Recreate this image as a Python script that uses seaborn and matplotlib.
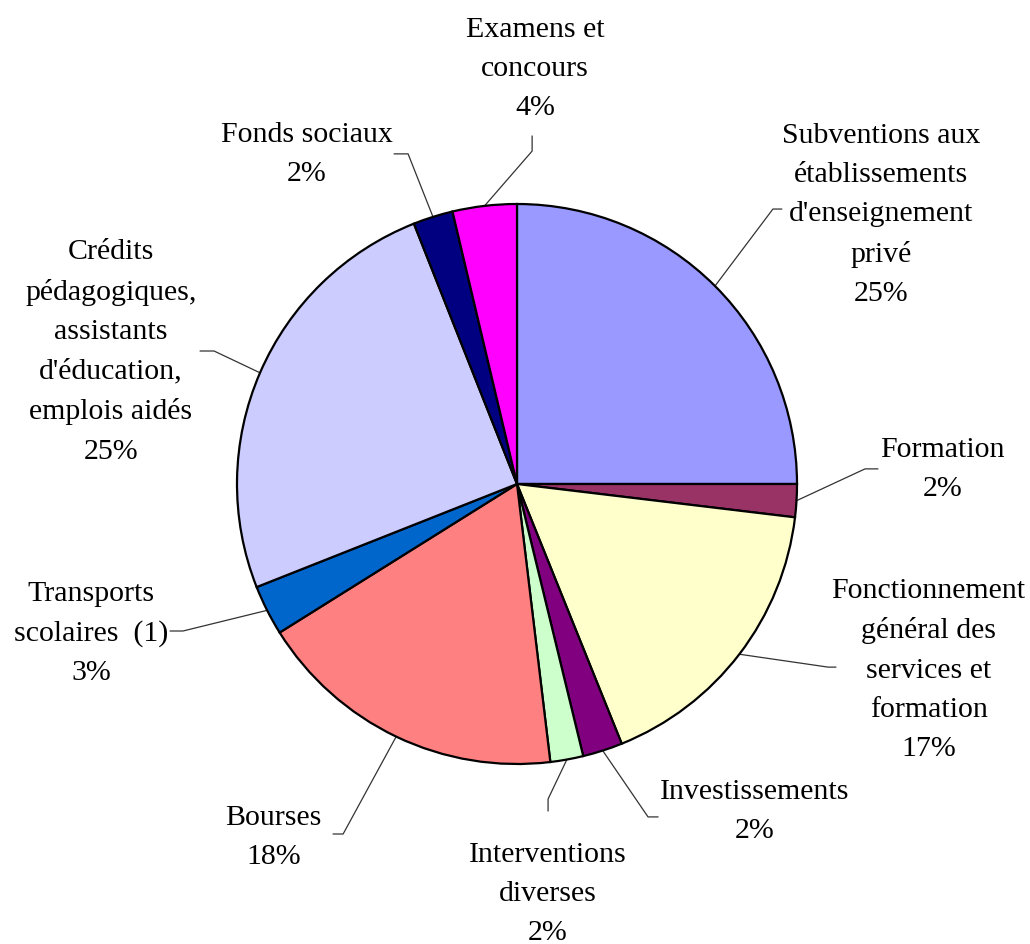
import numpy as np
import pandas as pd
import seaborn as sns
import matplotlib.pyplot as plt

# Données du graphique (parts en %)
categories = [
    "Subventions aux\nétablissements\nd'enseignement\nprivé",
    "Formation",
    "Fonctionnement\ngénéral des\nservices et\nformation",
    "Investissements",
    "Interventions\ndiverses",
    "Bourses",
    "Transports\nscolaires  (1)",
    "Crédits\npédagogiques,\nassistants\nd'éducation,\nemplois aidés",
    "Fonds sociaux",
    "Examens et\nconcours",
]
valeurs = [25.0, 1.9, 17.0, 2.3, 1.9, 18.0, 2.9, 25.0, 2.3, 3.7]
couleurs = ["#9999FF", "#993366", "#FFFFCC", "#800080", "#CCFFCC",
            "#FF8080", "#0066CC", "#CCCCFF", "#000080", "#FF00FF"]

# Position des étiquettes (en rayons) : texte, coude, fin du trait
pos_texte = [(1.30, 0.965), (1.52, 0.054), (1.47, -0.66), (0.85, -1.165),
             (0.11, -1.46), (-0.87, -1.26), (-1.52, -0.53), (-1.45, 0.475),
             (-0.75, 1.18), (0.065, 1.485)]
coudes = [(0.914, 0.982), (1.243, 0.054), (1.111, -0.654), (0.468, -1.189),
          (0.111, -1.125), (-0.621, -1.25), (-1.193, -0.525), (-1.082, 0.475),
          (-0.389, 1.179), (0.054, 1.189)]
fins = [(0.946, 0.982), (1.289, 0.054), (1.139, -0.654), (0.504, -1.189),
        (0.111, -1.168), (-0.657, -1.25), (-1.239, -0.525), (-1.132, 0.475),
        (-0.439, 1.179), (0.054, 1.243)]

sns.set_theme(style="white")
plt.rcParams['font.family'] = ['Liberation Serif', 'DejaVu Serif']

fig = plt.figure(figsize=(10.3, 9.45), dpi=100)
ax = fig.add_axes([0, 0, 1, 1])

wedges, _ = ax.pie(valeurs, colors=couleurs, startangle=90, counterclock=False,
                   radius=1.0, wedgeprops=dict(edgecolor='black', linewidth=1.6))

for i, w in enumerate(wedges):
    ang = np.deg2rad((w.theta1 + w.theta2) / 2)
    x0, y0 = np.cos(ang), np.sin(ang)
    xc, yc = coudes[i]
    xf, yf = fins[i]
    ax.plot([x0, xc, xf], [y0, yc, yf], color='#333333', lw=0.9, zorder=0)
    texte = f"{categories[i]}\n{round(valeurs[i]):d}%"
    ax.text(pos_texte[i][0], pos_texte[i][1], texte, ha='center', va='center',
            fontsize=21.5, linespacing=1.66, color='black')

ax.set_xlim(-517 / 280, 513 / 280)
ax.set_ylim(-460 / 280, 485 / 280)
ax.axis('off')

fig.savefig('out.png', dpi=100, facecolor='white')
